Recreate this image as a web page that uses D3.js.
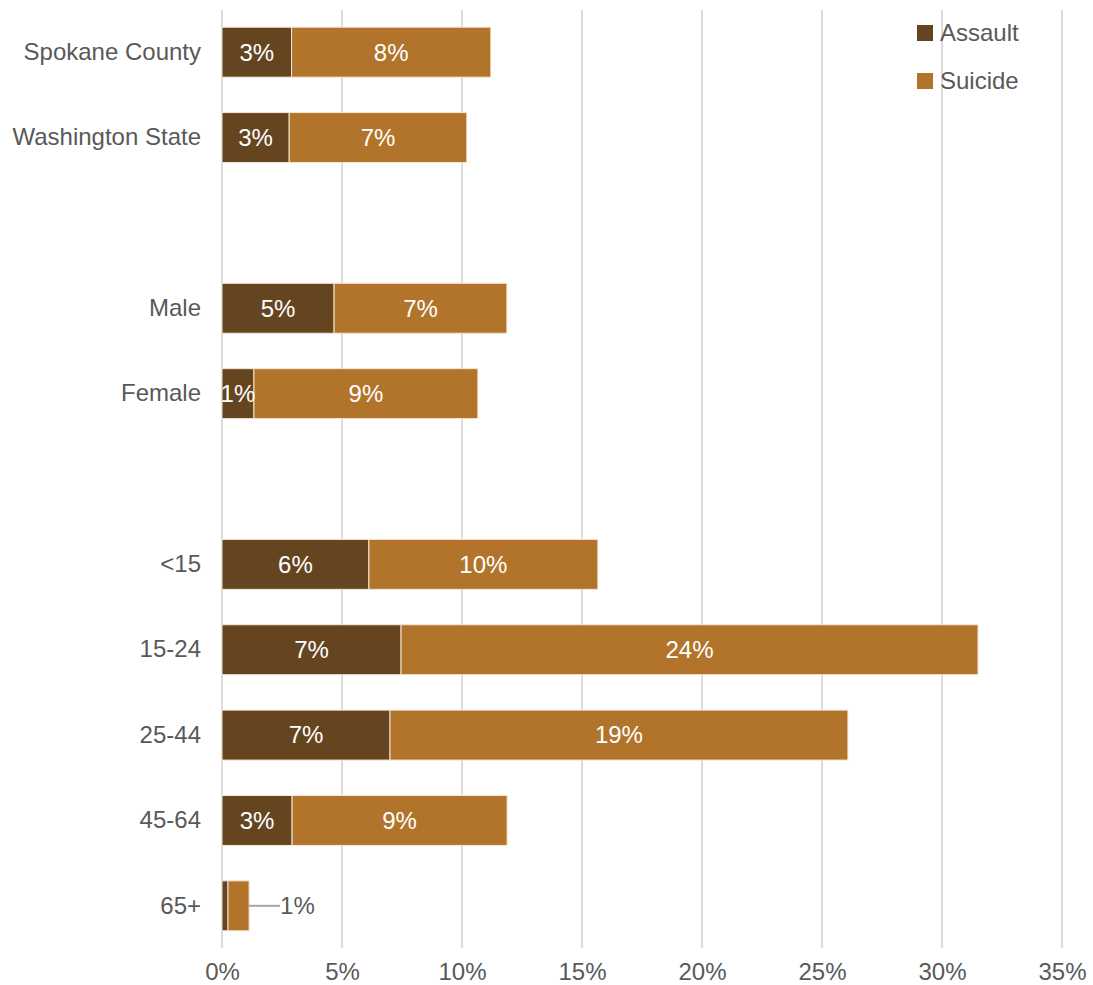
<!DOCTYPE html>
<html><head><meta charset="utf-8">
<script src="https://cdn.jsdelivr.net/npm/d3@7"></script>
<style>body{margin:0;background:#fff;}svg{display:block;font-family:"Liberation Sans",Arial,sans-serif;}</style>
</head><body>
<script>
const categories = ["Spokane County","Washington State","","Male","Female","","<15","15-24","25-44","45-64","65+"];
const assault = [2.9, 2.8, null, 4.67, 1.33, null, 6.12, 7.46, 7.0, 2.92, 0.25];
const suicide = [8.3, 7.4, null, 7.2, 9.33, null, 9.54, 24.04, 19.08, 8.96, 0.88];
const xTicks = [0,5,10,15,20,25,30,35];
const seriesNames = ["Assault","Suicide"];
const colors = ["#654520","#B2742A"];

const W=1093,H=985, FS=24;
const svg=d3.select("body").append("svg").attr("width",W).attr("height",H);
const x=d3.scaleLinear().domain([0,35]).range([222,1062]);
const y=d3.scaleBand().domain(d3.range(categories.length)).range([9.5,948.5]).paddingInner(0.415).paddingOuter(0.2075);

// grid
svg.append("g").selectAll("line").data(xTicks).join("line")
 .attr("x1",d=>x(d)).attr("x2",d=>x(d)).attr("y1",10).attr("y2",948)
 .attr("stroke","#dcdcdc").attr("stroke-width",2);

// x axis labels
const xa=svg.append("g").attr("transform","translate(0,972)")
 .call(d3.axisBottom(x).tickValues(xTicks).tickFormat(d=>d+"%").tickSize(0).tickPadding(0));
xa.select(".domain").remove();
xa.selectAll("text").attr("font-size",FS).attr("fill","#595959").attr("dy","0.35em").attr("font-family","Liberation Sans, Arial, sans-serif");

// y labels
const ya=svg.append("g").attr("transform","translate(201,0)")
 .call(d3.axisLeft(y).tickFormat(i=>categories[i]).tickSize(0).tickPadding(0));
ya.select(".domain").remove();
ya.selectAll("text").attr("font-size",FS).attr("fill","#595959").attr("font-family","Liberation Sans, Arial, sans-serif");

const rows=categories.map((c,i)=>({i,a:assault[i],s:suicide[i]})).filter(r=>r.a!=null);
const g=svg.append("g");
rows.forEach(r=>{
  const yy=y(r.i),bh=y.bandwidth();
  g.append("rect").attr("x",x(0)).attr("y",yy).attr("width",x(r.a)-x(0)).attr("height",bh)
   .attr("fill",colors[0]).attr("stroke","#f5e6d3").attr("stroke-width",1);
  g.append("rect").attr("x",x(r.a)).attr("y",yy).attr("width",x(r.a+r.s)-x(r.a)).attr("height",bh)
   .attr("fill",colors[1]).attr("stroke","#f5e6d3").attr("stroke-width",1);
  const cy=yy+bh/2;
  if(Math.round(r.a)>=1){
    g.append("text").attr("x",(x(0)+x(r.a))/2).attr("y",cy).attr("dy","0.35em").attr("text-anchor","middle")
     .attr("font-size",FS).attr("fill","#fff").text(Math.round(r.a)+"%");
  }
  if(r.s>=2){
    g.append("text").attr("x",(x(r.a)+x(r.a+r.s))/2).attr("y",cy).attr("dy","0.35em").attr("text-anchor","middle")
     .attr("font-size",FS).attr("fill","#fff").text(Math.round(r.s)+"%");
  } else {
    const ex=x(r.a+r.s);
    g.append("line").attr("x1",ex).attr("x2",ex+31).attr("y1",cy).attr("y2",cy).attr("stroke","#a6a6a6").attr("stroke-width",2);
    g.append("text").attr("x",ex+31).attr("y",cy).attr("dy","0.35em").attr("font-size",FS).attr("fill","#595959").text(Math.round(r.s)+"%");
  }
});

// legend
const lg=svg.append("g");
seriesNames.forEach((n,k)=>{
  const ly=33+k*48;
  lg.append("rect").attr("x",917).attr("y",ly-8).attr("width",16).attr("height",16).attr("fill",colors[k]);
  lg.append("text").attr("x",940).attr("y",ly).attr("dy","0.35em").attr("font-size",FS).attr("fill","#595959").text(n);
});
</script>
</body></html>
